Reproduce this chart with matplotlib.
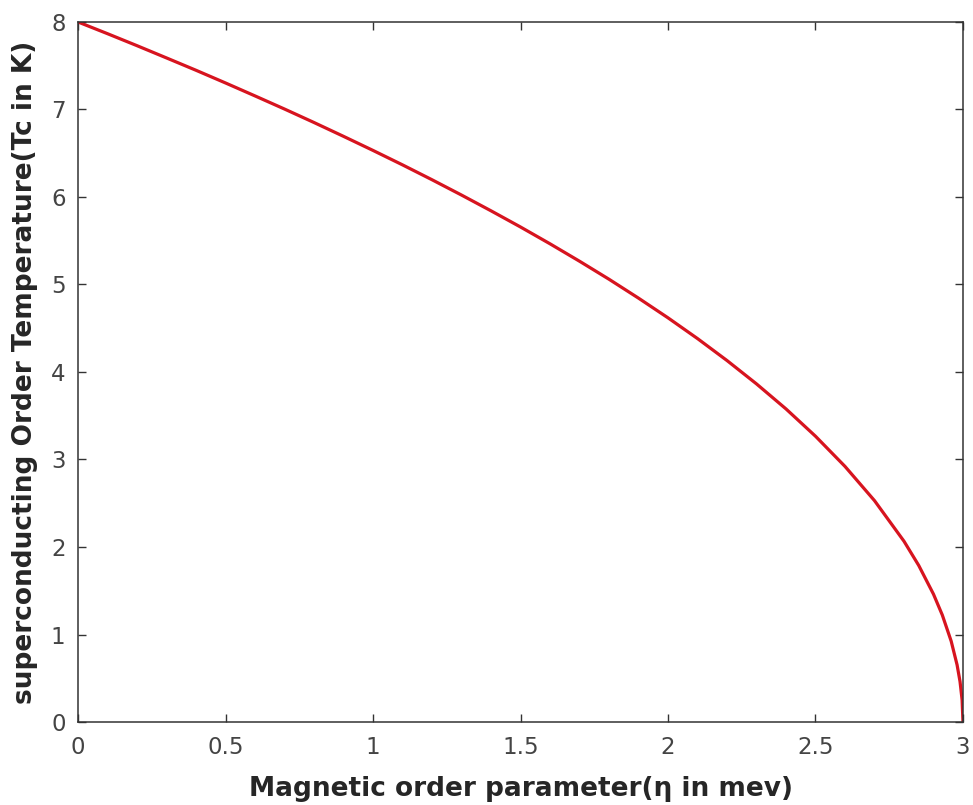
import matplotlib
matplotlib.use("Agg")
import matplotlib.pyplot as plt

eta = [0.0, 0.1, 0.2, 0.3, 0.4, 0.5, 0.6, 0.7, 0.8, 0.9,
       1.0, 1.1, 1.2, 1.3, 1.4, 1.5, 1.6, 1.7, 1.8, 1.9,
       2.0, 2.1, 2.2, 2.3, 2.4, 2.5, 2.6, 2.7, 2.8, 2.85,
       2.9, 2.93, 2.96, 2.98, 2.99, 2.997, 3.0]
tc = [8.000, 7.866, 7.729, 7.589, 7.448, 7.303, 7.155, 7.005, 6.851, 6.693,
      6.532, 6.367, 6.197, 6.022, 5.842, 5.657, 5.465, 5.266, 5.060, 4.844,
      4.619, 4.382, 4.131, 3.864, 3.578, 3.266, 2.921, 2.530, 2.066, 1.789,
      1.461, 1.222, 0.924, 0.653, 0.462, 0.253, 0.0]

xticks = [0, 0.5, 1, 1.5, 2, 2.5, 3]
xticklabels = ["0", "0.5", "1", "1.5", "2", "2.5", "3"]
yticks = [0, 1, 2, 3, 4, 5, 6, 7, 8]

plt.rcParams["font.family"] = "DejaVu Sans"

fig = plt.figure(figsize=(9.73, 8.05), dpi=100)
ax = fig.add_axes([0.0802, 0.1031, 0.9095, 0.8696])

ax.plot(eta, tc, color="#d7141f", linewidth=2.3, solid_capstyle="butt")

ax.set_xlim(0, 3)
ax.set_ylim(0, 8)
ax.set_xticks(xticks)
ax.set_xticklabels(xticklabels)
ax.set_yticks(yticks)

for s in ax.spines.values():
    s.set_color("#333333")
    s.set_linewidth(1.1)

ax.tick_params(direction="in", length=6, width=1.0, color="#333333",
               labelcolor="#444444", labelsize=16.5, top=True, right=True)
ax.tick_params(axis="x", pad=10)
ax.tick_params(axis="y", pad=9)

ax.set_xlabel("Magnetic order parameter(η in mev)", fontsize=19,
              fontweight="bold", color="#262626", labelpad=12)
ax.set_ylabel("superconducting Order Temperature(Tc in K)", fontsize=19,
              fontweight="bold", color="#262626", labelpad=9)

fig.savefig("out.png", dpi=100)
